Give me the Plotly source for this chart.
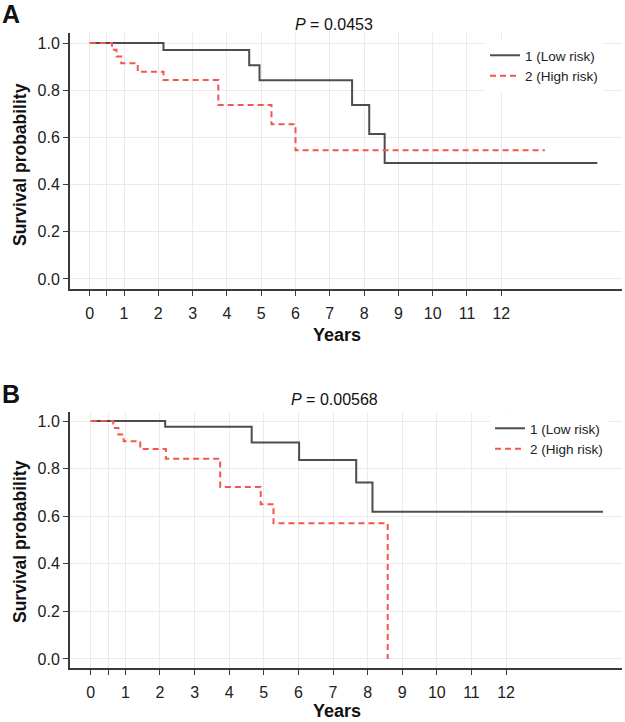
import plotly.graph_objects as go

# ---- data ----
a_low_t = [0, 2.15, 4.65, 4.95, 7.65, 8.15, 8.6, 14.8]
a_low_s = [1.0, 0.970, 0.906, 0.842, 0.737, 0.614, 0.491, 0.491]
a_high_t = [0, 0.65, 0.78, 0.92, 1.4, 2.15, 3.75, 5.3, 6.0, 13.27]
a_high_s = [1.0, 0.971, 0.943, 0.914, 0.878, 0.843, 0.737, 0.656, 0.546, 0.546]

b_low_t = [0, 2.15, 4.65, 6.02, 7.67, 8.14, 14.8]
b_low_s = [1.0, 0.976, 0.910, 0.836, 0.742, 0.619, 0.619]
b_high_t = [0, 0.65, 0.8, 0.95, 1.43, 2.17, 3.74, 4.91, 5.28, 8.58]
b_high_s = [1.0, 0.971, 0.943, 0.915, 0.882, 0.842, 0.723, 0.650, 0.570, 0.0]

x_tickvals = [0, 0.5, 1, 2, 3, 4, 5, 6, 7, 8, 9, 10, 11, 12]
x_ticktext = ["0", "", "1", "2", "3", "4", "5", "6", "7", "8", "9", "10", "11", "12"]
y_tickvals = [0.0, 0.2, 0.4, 0.6, 0.8, 1.0]
y_ticktext = ["0.0", "0.2", "0.4", "0.6", "0.8", "1.0"]

series_names = ["1 (Low risk)", "2 (High risk)"]
p_values = ["0.0453", "0.00568"]
x_title = "Years"
y_title = "Survival probability"

LOW_COL = "#4d4d4d"
HIGH_COL = "#f4554c"
FONT = "Liberation Sans, Arial, sans-serif"

# layout geometry (px) -> paper fractions
W, H = 625, 722
ML, MR, MT, MB = 70, 3, 33, 54
PW, PH = W - ML - MR, H - MT - MB


def px_x(px):
    return (px - ML) / PW


def px_y(py):
    return (H - MB - py) / PH


fig = go.Figure()
fig.add_trace(go.Scatter(x=a_low_t, y=a_low_s, mode="lines", line_shape="hv",
                         line=dict(color=LOW_COL, width=2), name=series_names[0],
                         xaxis="x", yaxis="y", legend="legend"))
fig.add_trace(go.Scatter(x=a_high_t, y=a_high_s, mode="lines", line_shape="hv",
                         line=dict(color=HIGH_COL, width=2, dash="6px,4px"), name=series_names[1],
                         xaxis="x", yaxis="y", legend="legend"))
fig.add_trace(go.Scatter(x=b_low_t, y=b_low_s, mode="lines", line_shape="hv",
                         line=dict(color=LOW_COL, width=2), name=series_names[0],
                         xaxis="x2", yaxis="y2", legend="legend2"))
fig.add_trace(go.Scatter(x=b_high_t, y=b_high_s, mode="lines", line_shape="hv",
                         line=dict(color=HIGH_COL, width=2, dash="6px,4px"), name=series_names[1],
                         xaxis="x2", yaxis="y2", legend="legend2"))

xcommon = dict(tickvals=x_tickvals, ticktext=x_ticktext, showgrid=True, gridcolor="#ebebeb",
               gridwidth=1, zeroline=False, showline=True, linecolor="#3a3a3a", linewidth=2,
               ticks="outside", ticklen=5, tickwidth=1, tickcolor="#3a3a3a",
               ticklabelstandoff=4, automargin=False,
               tickfont=dict(size=16, color="#222", family=FONT))
ycommon = dict(tickvals=y_tickvals, ticktext=y_ticktext, showgrid=True, gridcolor="#ebebeb",
               gridwidth=1, zeroline=False, showline=True, linecolor="#3a3a3a", linewidth=2,
               ticks="outside", ticklen=5, tickwidth=1, tickcolor="#3a3a3a", automargin=False,
               tickfont=dict(size=16, color="#222", family=FONT))

fig.update_layout(
    width=W, height=H,
    margin=dict(l=ML, r=MR, t=MT, b=MB, autoexpand=False),
    plot_bgcolor="white", paper_bgcolor="white",
    font=dict(family=FONT, color="#222"),
    xaxis=dict(domain=[0, 1], anchor="y", range=[-0.575, 15.52], **xcommon),
    yaxis=dict(domain=[px_y(289), 1.0], anchor="x", range=[-0.0425, 1.0425], **ycommon),
    xaxis2=dict(domain=[0, 1], anchor="y2", range=[-0.6, 15.35], **xcommon),
    yaxis2=dict(domain=[0.0, px_y(412)], anchor="x2", range=[-0.038, 1.038], **ycommon),
    legend=dict(x=px_x(485), y=px_y(40), xanchor="left", yanchor="top", bgcolor="white",
                font=dict(size=13.5, color="#222", family=FONT), itemwidth=30,
                tracegroupgap=0),
    legend2=dict(x=px_x(490), y=px_y(413), xanchor="left", yanchor="top", bgcolor="white",
                 font=dict(size=13.5, color="#222", family=FONT), itemwidth=30,
                 tracegroupgap=0),
    showlegend=True,
)

annotations = [
    dict(text="<b>A</b>", x=px_x(11), y=px_y(14), xref="paper", yref="paper", xanchor="center",
         yanchor="middle", showarrow=False, font=dict(size=25, color="#111", family=FONT)),
    dict(text="<b>B</b>", x=px_x(11), y=px_y(394), xref="paper", yref="paper", xanchor="center",
         yanchor="middle", showarrow=False, font=dict(size=25, color="#111", family=FONT)),
    dict(text="<i>P</i> = " + p_values[0], x=px_x(334), y=px_y(24), xref="paper", yref="paper",
         xanchor="center", yanchor="middle", showarrow=False, font=dict(size=16, color="#111", family=FONT)),
    dict(text="<i>P</i> = " + p_values[1], x=px_x(334), y=px_y(400), xref="paper", yref="paper",
         xanchor="center", yanchor="middle", showarrow=False, font=dict(size=16, color="#111", family=FONT)),
    dict(text="<b>" + x_title + "</b>", x=px_x(337), y=px_y(335), xref="paper", yref="paper",
         xanchor="center", yanchor="middle", showarrow=False, font=dict(size=18, color="#111", family=FONT)),
    dict(text="<b>" + x_title + "</b>", x=px_x(337), y=px_y(711), xref="paper", yref="paper",
         xanchor="center", yanchor="middle", showarrow=False, font=dict(size=18, color="#111", family=FONT)),
    dict(text="<b>" + y_title + "</b>", x=px_x(20), y=px_y(165), xref="paper", yref="paper",
         xanchor="center", yanchor="middle", textangle=-90, showarrow=False,
         font=dict(size=17.5, color="#111", family=FONT)),
    dict(text="<b>" + y_title + "</b>", x=px_x(20), y=px_y(542), xref="paper", yref="paper",
         xanchor="center", yanchor="middle", textangle=-90, showarrow=False,
         font=dict(size=17.5, color="#111", family=FONT)),
]
fig.update_layout(annotations=annotations)

fig.write_html("out.html", config={"displayModeBar": False},
               post_script="document.body.style.margin='0';document.body.style.overflow='hidden';")
